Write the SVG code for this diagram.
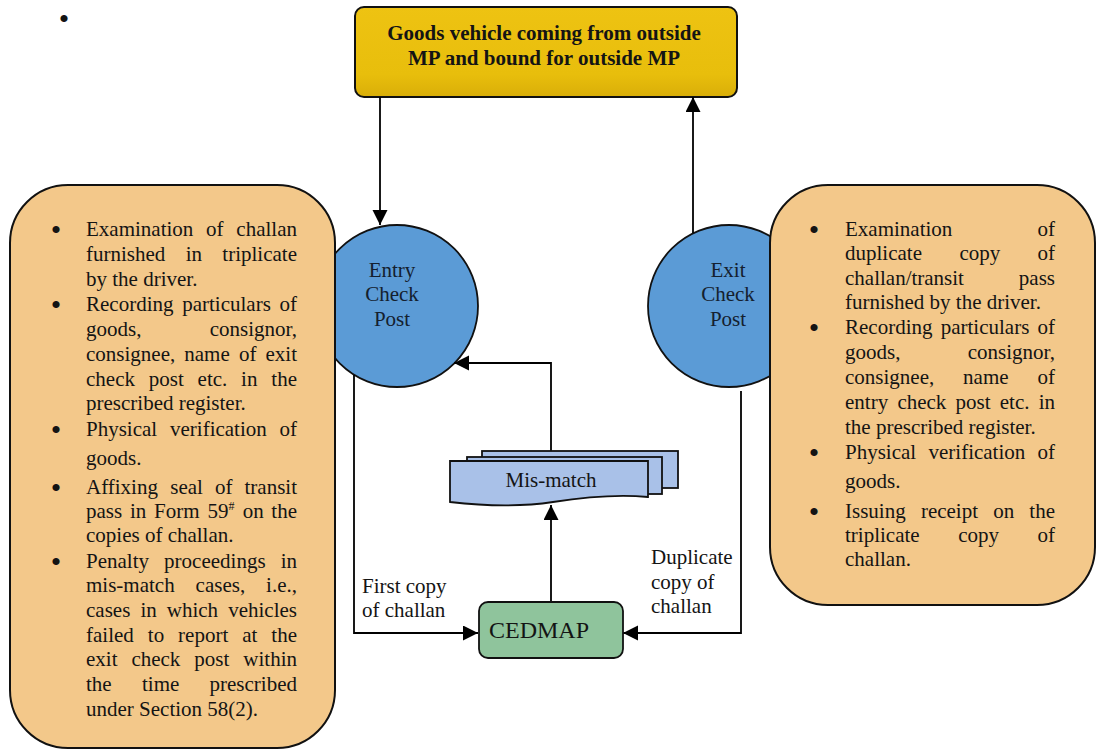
<svg xmlns="http://www.w3.org/2000/svg" width="1103" height="751" viewBox="0 0 1103 751">
  <defs>
    <marker id="arrow" markerUnits="userSpaceOnUse" markerWidth="16" markerHeight="16" refX="15" refY="7.5" orient="auto">
      <path d="M0,0 L15,7.5 L0,15 z" fill="#000"/>
    </marker>
    <linearGradient id="gold" x1="0" y1="0" x2="0" y2="1">
      <stop offset="0" stop-color="#EEC312"/>
      <stop offset="0.75" stop-color="#E8BE0C"/>
      <stop offset="1" stop-color="#D9AE08"/>
    </linearGradient>
  </defs>
  <style>
    text { font-family: "Liberation Serif", "Times New Roman", serif; fill: #141414; }
    .body { font-size: 21px; }
    .end { text-anchor: end; }
    .mid { text-anchor: middle; }
    .bul { font-size: 30px; text-anchor: middle; }
    .title { font-size: 21px; font-weight: bold; text-anchor: middle; }
    .post { font-size: 21px; text-anchor: middle; fill: #14202e; }
    .lbl { font-size: 21px; }
    .panel { fill: #F3C88A; stroke: #111; stroke-width: 2; }
    .circle { fill: #5B9BD6; stroke: #111; stroke-width: 1.8; }
    .doc { fill: #A9C1E8; stroke: #111; stroke-width: 1.8; }
    .conn { fill: none; stroke: #000; stroke-width: 1.8; }
  </style>

  <rect width="1103" height="751" fill="#fff"/>

  <!-- stray list bullet at the top of the page -->
  <text x="64" y="29" class="mid" style="font-size:30px">•</text>

  <!-- check post circles (drawn first; side panels overlap them) -->
  <g id="entry-check-post">
    <circle class="circle" cx="397" cy="306" r="81"/>
    <text class="post" x="392" y="277">Entry</text>
    <text class="post" x="392" y="301">Check</text>
    <text class="post" x="392" y="326">Post</text>
  </g>
  <g id="exit-check-post">
    <circle class="circle" cx="729" cy="306" r="81"/>
    <text class="post" x="728" y="277">Exit</text>
    <text class="post" x="728" y="301">Check</text>
    <text class="post" x="728" y="326">Post</text>
  </g>

  <!-- top source box -->
  <g id="goods-vehicle">
    <rect x="355" y="7" width="382" height="90" rx="9" fill="url(#gold)" stroke="#111" stroke-width="2"/>
    <text class="title" x="544" y="40">Goods vehicle coming from outside</text>
    <text class="title" x="544" y="65">MP and bound for outside MP</text>
  </g>

  <!-- connectors -->
  <g id="connectors">
    <path class="conn" d="M380,97 V225" marker-end="url(#arrow)"/>
    <path class="conn" d="M693,233 V97" marker-end="url(#arrow)"/>
    <path class="conn" d="M354,375 V633 H478" marker-end="url(#arrow)"/>
    <path class="conn" d="M741,391 V633 H623" marker-end="url(#arrow)"/>
    <path class="conn" d="M551,602 V505" marker-end="url(#arrow)"/>
    <path class="conn" d="M551,451 V363 H454" marker-end="url(#arrow)"/>
  </g>

  <!-- entry check post duties -->
  <g id="entry-duties">
    <rect class="panel" x="10" y="185" width="325" height="563" rx="58"/>
    <g class="body">
      <text x="56" y="240" class="bul">•</text>
      <text y="236"><tspan x="86">Examination</tspan><tspan x="206">of</tspan></text>
      <text y="236" x="297" class="end">challan</text>
      <text y="261"><tspan x="86">furnished</tspan><tspan x="185.7">in</tspan></text>
      <text y="261" x="297" class="end">triplicate</text>
      <text y="286" x="86">by the driver.</text>

      <text x="56" y="315" class="bul">•</text>
      <text y="311"><tspan x="86">Recording</tspan><tspan x="182.2">particulars</tspan></text>
      <text y="311" x="297" class="end">of</text>
      <text y="336" x="86">goods,</text>
      <text y="336" x="297" class="end">consignor,</text>
      <text y="361"><tspan x="86">consignee,</tspan><tspan x="184.3">name</tspan><tspan x="238.9">of</tspan></text>
      <text y="361" x="297" class="end">exit</text>
      <text y="386"><tspan x="86">check</tspan><tspan x="148.8">post</tspan><tspan x="197.6">etc.</tspan><tspan x="241.1">in</tspan></text>
      <text y="386" x="297" class="end">the</text>
      <text y="410" x="86">prescribed register.</text>

      <text x="56" y="440" class="bul">•</text>
      <text y="436"><tspan x="86">Physical</tspan><tspan x="170">verification</tspan></text>
      <text y="436" x="297" class="end">of</text>
      <text y="465" x="86">goods.</text>

      <text x="56" y="498" class="bul">•</text>
      <text y="494"><tspan x="86">Affixing</tspan><tspan x="170.3">seal</tspan><tspan x="215">of</tspan></text>
      <text y="494" x="297" class="end">transit</text>
      <text y="518"><tspan x="86">pass</tspan><tspan x="130">in</tspan><tspan x="154.1">Form</tspan><tspan x="207.4">59</tspan><tspan dy="-8" style="font-size:12px">#</tspan><tspan x="242.7" dy="8">on</tspan></text>
      <text y="518" x="297" class="end">the</text>
      <text y="542" x="86">copies of challan.</text>

      <text x="56" y="572" class="bul">•</text>
      <text y="568"><tspan x="86">Penalty</tspan><tspan x="164.1">proceedings</tspan></text>
      <text y="568" x="297" class="end">in</text>
      <text y="592"><tspan x="86">mis-match</tspan><tspan x="195.6">cases,</tspan></text>
      <text y="592" x="297" class="end">i.e.,</text>
      <text y="617"><tspan x="86">cases</tspan><tspan x="140.4">in</tspan><tspan x="166.8">which</tspan></text>
      <text y="617" x="297" class="end">vehicles</text>
      <text y="642"><tspan x="86">failed</tspan><tspan x="147.8">to</tspan><tspan x="178.1">report</tspan><tspan x="242.2">at</tspan></text>
      <text y="642" x="297" class="end">the</text>
      <text y="666"><tspan x="86">exit</tspan><tspan x="131.4">check</tspan><tspan x="194.3">post</tspan></text>
      <text y="666" x="297" class="end">within</text>
      <text y="691"><tspan x="86">the</tspan><tspan x="142">time</tspan></text>
      <text y="691" x="297" class="end">prescribed</text>
      <text y="716" x="86">under Section 58(2).</text>
    </g>
  </g>

  <!-- exit check post duties -->
  <g id="exit-duties">
    <rect class="panel" x="770" y="185" width="325" height="420" rx="58"/>
    <g class="body">
      <text x="814" y="240" class="bul">•</text>
      <text y="236" x="845">Examination</text>
      <text y="236" x="1055" class="end">of</text>
      <text y="260"><tspan x="845">duplicate</tspan><tspan x="959.4">copy</tspan></text>
      <text y="260" x="1055" class="end">of</text>
      <text y="285" x="845">challan/transit</text>
      <text y="285" x="1055" class="end">pass</text>
      <text y="309" x="845">furnished by the driver.</text>

      <text x="814" y="338" class="bul">•</text>
      <text y="334"><tspan x="845">Recording</tspan><tspan x="940.7">particulars</tspan></text>
      <text y="334" x="1055" class="end">of</text>
      <text y="359" x="845">goods,</text>
      <text y="359" x="1055" class="end">consignor,</text>
      <text y="384"><tspan x="845">consignee,</tspan><tspan x="963.1">name</tspan></text>
      <text y="384" x="1055" class="end">of</text>
      <text y="409"><tspan x="845">entry</tspan><tspan x="897.4">check</tspan><tspan x="955.6">post</tspan><tspan x="999.8">etc.</tspan></text>
      <text y="409" x="1055" class="end">in</text>
      <text y="434" x="845">the prescribed register.</text>

      <text x="814" y="463" class="bul">•</text>
      <text y="459"><tspan x="845">Physical</tspan><tspan x="928.5">verification</tspan></text>
      <text y="459" x="1055" class="end">of</text>
      <text y="488" x="845">goods.</text>

      <text x="814" y="522" class="bul">•</text>
      <text y="518"><tspan x="845">Issuing</tspan><tspan x="920.9">receipt</tspan><tspan x="993.2">on</tspan></text>
      <text y="518" x="1055" class="end">the</text>
      <text y="542"><tspan x="845">triplicate</tspan><tspan x="958.2">copy</tspan></text>
      <text y="542" x="1055" class="end">of</text>
      <text y="566" x="845">challan.</text>
    </g>
  </g>

  <!-- mis-match report stack -->
  <g id="mis-match">
    <rect class="doc" x="482" y="451" width="196" height="37"/>
    <rect class="doc" x="467" y="457" width="195" height="37"/>
    <path class="doc" d="M450,461 H648 V497 C615,494 585,497 553,502 C520,507 485,506 450,502 Z"/>
    <text x="551" y="487" class="mid" style="font-size:21px">Mis-match</text>
  </g>

  <!-- central database -->
  <g id="cedmap">
    <rect x="479" y="602" width="144" height="56" rx="9" fill="#8FC49C" stroke="#111" stroke-width="1.8"/>
    <text x="489" y="638" style="font-size:24px">CEDMAP</text>
  </g>

  <!-- connector labels -->
  <g id="labels" class="lbl">
    <text x="362" y="593">First copy</text>
    <text x="362" y="617">of challan</text>
    <text x="651" y="564">Duplicate</text>
    <text x="651" y="589">copy of</text>
    <text x="651" y="613">challan</text>
  </g>
</svg>
